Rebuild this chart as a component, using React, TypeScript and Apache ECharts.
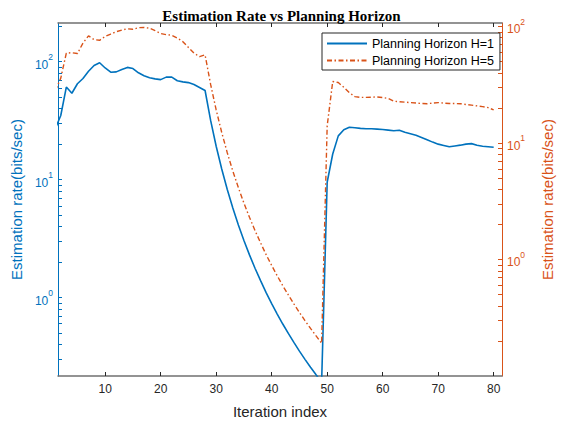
import React, { useEffect, useRef } from "react";
import * as echarts from "echarts";

const iterations: number[] = [
  1, 2, 3, 4, 5, 6, 7, 8, 9, 10, 11, 12, 13, 14, 15, 16, 17, 18, 19, 20,
  21, 22, 23, 24, 25, 26, 27, 28, 29, 30, 31, 32, 33, 34, 35, 36, 37, 38, 39, 40,
  41, 42, 43, 44, 45, 46, 47, 48, 49, 50, 51, 52, 53, 54, 55, 56, 57, 58, 59, 60,
  61, 62, 63, 64, 65, 66, 67, 68, 69, 70, 71, 72, 73, 74, 75, 76, 77, 78, 79, 80,
];

const rateH1: number[] = [
  27, 35, 61, 54, 65, 72, 83, 93, 98, 88.5,
  81.5, 82, 86, 89.5, 87.5, 80.5, 76, 73, 71.5, 70.5,
  74, 74, 69, 67.5, 66.5, 64, 60.5, 57, 31.8, 19.2,
  12.3, 8.24, 5.74, 4.13, 3.05, 2.3, 1.77, 1.39, 1.1, 0.889,
  0.724, 0.596, 0.496, 0.416, 0.351, 0.299, 0.256, 0.221, 0.191, 9.5,
  16.5, 23.5, 26.5, 27.8, 27.5, 27.2, 27.0, 27.0, 26.8, 26.6,
  26.3, 26.0, 26.2, 25.2, 24.5, 23.8, 22.8, 21.8, 20.8, 20.0,
  19.5, 19.0, 19.3, 19.6, 20.0, 20.2, 19.6, 19.2, 19.0, 18.8,
];

const rateH5: number[] = [
  28, 36, 59, 59.5, 58.5, 72, 83, 77, 76, 82,
  86, 90, 93, 95.5, 94.5, 97.5, 98, 96.5, 92, 87,
  85, 84, 79.5, 74, 66, 59, 55, 57, 31.8, 19.2,
  12.3, 8.24, 5.74, 4.13, 3.05, 2.3, 1.77, 1.39, 1.1, 0.889,
  0.724, 0.596, 0.496, 0.416, 0.351, 0.299, 0.256, 0.221, 0.191, 14,
  33.7, 33, 30, 27, 25, 24.6, 24.6, 24.7, 24.8, 24.5,
  24.1, 22.8, 22.6, 22.4, 22.2, 22.0, 21.8, 21.7, 22.0, 22.2,
  22.0, 21.8, 21.8, 21.7, 21.4, 21.1, 20.8, 20.5, 20.1, 19.2,
];

const xTickValues: number[] = [10, 20, 30, 40, 50, 60, 70, 80];
const yLabelValues: number[] = [1, 10, 100];
const leftTickValues: number[] = [
  0.3, 0.4, 0.5, 0.6, 0.7, 0.8, 0.9,
  1, 2, 3, 4, 5, 6, 7, 8, 9,
  10, 20, 30, 40, 50, 60, 70, 80, 90,
  100, 200,
];
const rightTickValues: number[] = [
  0.2, 0.3, 0.4, 0.5, 0.6, 0.7, 0.8, 0.9,
  1, 2, 3, 4, 5, 6, 7, 8, 9,
  10, 20, 30, 40, 50, 60, 70, 80, 90,
  100,
];

const BLUE = "#0072BD";
const ORANGE = "#D95319";
const AXIS_GRAY = "#707070";
const FONT = "Liberation Sans";

function powerLabel(color: string) {
  return {
    show: true,
    customValues: yLabelValues,
    margin: 5,
    formatter: (v: number) => `{b|10}{s|${Math.round(Math.log10(v))}}`,
    rich: {
      b: { fontSize: 12, fontFamily: FONT, color, lineHeight: 18, verticalAlign: "bottom" },
      s: { fontSize: 8.5, fontFamily: FONT, color, lineHeight: 18, verticalAlign: "top" },
    },
  };
}

export default function App() {
  const ref = useRef<HTMLDivElement>(null);
  useEffect(() => {
    if (!ref.current) return;
    const chart = echarts.init(ref.current, null, { renderer: "svg" });
    const option: any = {
      animation: false,
      backgroundColor: "#ffffff",
      title: {
        text: "Estimation Rate vs Planning Horizon",
        left: "center",
        top: 3,
        textStyle: { fontFamily: "Liberation Serif", fontWeight: "bold", fontSize: 15, color: "#000" },
      },
      legend: {
        orient: "vertical",
        left: 322,
        top: 33,
        itemWidth: 40,
        itemHeight: 10,
        itemGap: 4,
        padding: [4, 6, 3, 4],
        borderColor: "#262626",
        borderWidth: 1,
        backgroundColor: "#ffffff",
        itemStyle: { opacity: 0 },
        textStyle: { fontFamily: FONT, fontSize: 12.5, color: "#000" },
        data: ["Planning Horizon H=1", "Planning Horizon H=5"],
      },
      grid: { left: 58, right: 55, top: 23, bottom: 46, containLabel: false },
      xAxis: [
        {
          type: "value",
          position: "bottom",
          min: 1.5,
          max: 81.5,
          name: "Iteration index",
          nameLocation: "middle",
          nameGap: 28,
          nameTextStyle: { fontFamily: FONT, fontSize: 15, color: "#262626" },
          axisLine: { show: true, lineStyle: { color: AXIS_GRAY, width: 1.5 } },
          axisTick: { show: true, inside: true, length: 4, customValues: xTickValues, lineStyle: { color: "#262626" } },
          axisLabel: { show: true, customValues: xTickValues, margin: 7, fontFamily: FONT, fontSize: 12, color: "#262626" },
          splitLine: { show: false },
        },
        {
          type: "value",
          position: "top",
          min: 1.5,
          max: 81.5,
          axisLine: { show: true, lineStyle: { color: AXIS_GRAY, width: 1.5 } },
          axisTick: { show: true, inside: true, length: 4, customValues: xTickValues, lineStyle: { color: "#262626" } },
          axisLabel: { show: false },
          splitLine: { show: false },
        },
      ],
      yAxis: [
        {
          type: "log",
          logBase: 10,
          position: "left",
          min: 0.216,
          max: 213,
          name: "Estimation rate(bits/sec)",
          nameLocation: "middle",
          nameRotate: 90,
          nameGap: 32,
          nameTextStyle: { fontFamily: FONT, fontSize: 15, color: BLUE },
          axisLine: { show: true, lineStyle: { color: BLUE, width: 1 } },
          axisTick: { show: true, inside: true, length: 4, customValues: leftTickValues, lineStyle: { color: BLUE } },
          axisLabel: powerLabel(BLUE),
          splitLine: { show: false },
          minorTick: { show: false },
        },
        {
          type: "log",
          logBase: 10,
          position: "right",
          min: 0.1,
          max: 107,
          name: "Estimation rate(bits/sec)",
          nameLocation: "middle",
          nameRotate: 90,
          nameGap: 38,
          nameTextStyle: { fontFamily: FONT, fontSize: 15, color: ORANGE },
          axisLine: { show: true, lineStyle: { color: ORANGE, width: 1 } },
          axisTick: { show: true, inside: true, length: 4, customValues: rightTickValues, lineStyle: { color: ORANGE } },
          axisLabel: powerLabel(ORANGE),
          splitLine: { show: false },
          minorTick: { show: false },
        },
      ],
      series: [
        {
          name: "Planning Horizon H=1",
          type: "line",
          xAxisIndex: 0,
          yAxisIndex: 0,
          showSymbol: false,
          symbol: "none",
          clip: true,
          color: BLUE,
          lineStyle: { color: BLUE, width: 1.6 },
          data: iterations.map((x, k) => [x, rateH1[k]]),
        },
        {
          name: "Planning Horizon H=5",
          type: "line",
          xAxisIndex: 0,
          yAxisIndex: 1,
          showSymbol: false,
          symbol: "none",
          clip: true,
          color: ORANGE,
          lineStyle: { color: ORANGE, width: 1.4, type: [5, 2.5, 1.5, 2.5] },
          data: iterations.map((x, k) => [x, rateH5[k]]),
        },
      ],
    };
    chart.setOption(option);
    return () => chart.dispose();
  }, []);
  return (
    <div
      ref={ref}
      style={{ position: "fixed", left: 0, top: 0, width: 563, height: 424, background: "#fff" }}
    />
  );
}
